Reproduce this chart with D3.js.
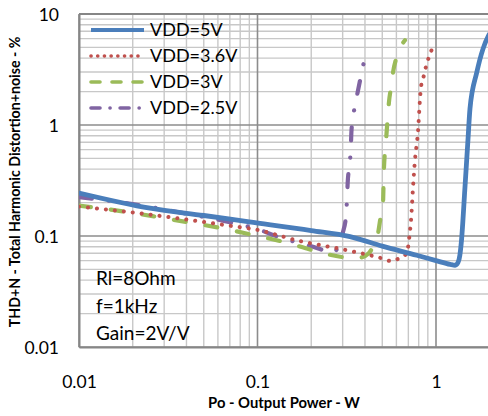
<!DOCTYPE html>
<html>
<head>
<meta charset="utf-8">
<script src="https://cdn.jsdelivr.net/npm/d3@7"></script>
<style>
  html, body { margin: 0; padding: 0; background: #fff; }
  svg { display: block; }
  text { font-family: Lato, "Open Sans", sans-serif; fill: #000; }
</style>
</head>
<body>
<script>
// ---- data ----
const seriesNames = ["VDD=5V", "VDD=3.6V", "VDD=3V", "VDD=2.5V"];

const p5V   = [0.01, 0.025, 0.05, 0.09, 0.2, 0.33, 0.5, 0.78, 1.0, 1.2, 1.28, 1.33, 1.36, 1.39, 1.45, 1.51, 1.55, 1.69, 1.83, 1.96, 2.05];
const thd5V = [0.244, 0.178, 0.153, 0.134, 0.112, 0.0986, 0.081, 0.067, 0.060, 0.0555, 0.0545, 0.058, 0.067, 0.092, 0.26, 0.73, 1.4, 2.95, 4.8, 6.3, 7.0];

const p36V   = [0.01, 0.0234, 0.042, 0.08, 0.093, 0.173, 0.31, 0.496, 0.558, 0.623, 0.686, 0.709, 0.727, 0.742, 0.763, 0.782, 0.792, 0.798, 0.809, 0.824, 0.846, 0.872, 0.899, 0.938, 0.982];
const thd36V = [0.184, 0.158, 0.139, 0.120, 0.116, 0.090, 0.075, 0.063, 0.0596, 0.063, 0.0698, 0.0986, 0.15, 0.26, 0.49, 0.70, 0.85, 1.03, 1.5, 2.2, 2.6, 3.2, 3.8, 4.6, 5.5];

const p3V   = [0.01, 0.0188, 0.0277, 0.0429, 0.0657, 0.0944, 0.146, 0.2, 0.33, 0.375, 0.42, 0.444, 0.47, 0.49, 0.505, 0.51, 0.525, 0.535, 0.545, 0.56, 0.575, 0.605, 0.67];
const thd3V = [0.188, 0.164, 0.148, 0.131, 0.116, 0.102, 0.087, 0.075, 0.064, 0.064, 0.070, 0.080, 0.099, 0.15, 0.20, 0.37, 0.73, 1.1, 1.6, 2.2, 3.0, 4.2, 5.8];

const p25V   = [0.01, 0.020, 0.0383, 0.073, 0.099, 0.136, 0.189, 0.23, 0.254, 0.283, 0.30, 0.313, 0.317, 0.32, 0.327, 0.333, 0.336, 0.345, 0.36, 0.375, 0.40];
const thd25V = [0.224, 0.194, 0.161, 0.131, 0.116, 0.096, 0.083, 0.075, 0.070, 0.078, 0.106, 0.15, 0.21, 0.30, 0.43, 0.60, 0.88, 1.25, 1.8, 2.5, 4.1];

const xTickValues = [0.01, 0.1, 1];
const xTickLabels = ["0.01", "0.1", "1"];
const yTickValues = [0.01, 0.1, 1, 10];
const yTickLabels = ["0.01", "0.1", "1", "10"];

const annotations = ["Rl=8Ohm", "f=1kHz", "Gain=2V/V"];
const xTitle = "Po - Output Power - W";
const yTitle = "THD+N - Total Harmonic Distortion+noise - %";

// ---- layout ----
const W = 488, H = 416;
const mLeft = 79, mTop = 14, mBottom = 347;
const decade = 178.5;
const x = d3.scaleLog().domain([0.01, 2]).range([mLeft, mLeft + decade * Math.log10(200)]);
const y = d3.scaleLog().domain([0.01, 10]).range([mBottom, mTop]);
const mRight = x.range()[1];

const svg = d3.select("body").append("svg").attr("width", W).attr("height", H);

const defs = svg.append("defs");
defs.append("clipPath").attr("id", "plotclip").append("rect")
  .attr("x", mLeft).attr("y", mTop).attr("width", mRight - mLeft).attr("height", mBottom - mTop);

// ---- grid ----
const grid = svg.append("g");
const minorX = [], majorX = [];
for (let e = -2; e <= 0; e++) {
  for (let m = 1; m <= 9; m++) {
    const v = m * Math.pow(10, e);
    if (v > 2.0001) continue;
    (m === 1 ? majorX : minorX).push(v);
  }
}
const minorY = [], majorY = [];
for (let e = -2; e <= 1; e++) {
  for (let m = 1; m <= 9; m++) {
    const v = m * Math.pow(10, e);
    if (v > 10.0001) continue;
    (m === 1 ? majorY : minorY).push(v);
  }
}
grid.selectAll(".mx").data(minorX).enter().append("line")
  .attr("x1", d => x(d)).attr("x2", d => x(d)).attr("y1", mTop).attr("y2", mBottom)
  .attr("stroke", "#c8c8c8").attr("stroke-width", 1.4);
grid.selectAll(".my").data(minorY).enter().append("line")
  .attr("x1", mLeft).attr("x2", mRight).attr("y1", d => y(d)).attr("y2", d => y(d))
  .attr("stroke", "#c8c8c8").attr("stroke-width", 1.4);
grid.selectAll(".Mx").data(majorX).enter().append("line")
  .attr("x1", d => x(d)).attr("x2", d => x(d)).attr("y1", mTop).attr("y2", mBottom)
  .attr("stroke", "#8c8c8c").attr("stroke-width", 1.6);
grid.selectAll(".My").data(majorY).enter().append("line")
  .attr("x1", mLeft).attr("x2", mRight).attr("y1", d => y(d)).attr("y2", d => y(d))
  .attr("stroke", "#8c8c8c").attr("stroke-width", 1.6);

// ---- axes (labels via d3 axes) ----
const xAxis = d3.axisBottom(x).tickValues(xTickValues)
  .tickFormat((d, i) => xTickLabels[i]).tickSize(0).tickPadding(0);
const gx = svg.append("g").attr("transform", `translate(0,${mBottom})`).call(xAxis);
gx.select(".domain").attr("stroke", "#868686").attr("stroke-width", 2);
gx.selectAll("text").attr("y", 41).attr("dy", 0)
  .style("font-size", "17.5px").style("font-family", "Lato, 'Open Sans', sans-serif").attr("fill", "#000");

const yAxis = d3.axisLeft(y).tickValues(yTickValues)
  .tickFormat((d, i) => yTickLabels[i]).tickSize(0).tickPadding(0);
const gy = svg.append("g").attr("transform", `translate(${mLeft},0)`).call(yAxis);
gy.select(".domain").attr("stroke", "#868686").attr("stroke-width", 2);
gy.selectAll("text").attr("x", -20).attr("dy", "0.36em")
  .style("font-size", "17.5px").style("font-family", "Lato, 'Open Sans', sans-serif").attr("fill", "#000");

// top border
svg.append("line").attr("x1", mLeft).attr("x2", mRight).attr("y1", mTop).attr("y2", mTop)
  .attr("stroke", "#868686").attr("stroke-width", 2);

// ---- series ----
const series = [
  { name: seriesNames[0], p: p5V,  t: thd5V,  color: "#4a7ebb", width: 4.8, dash: null, legDash: null },
  { name: seriesNames[1], p: p36V, t: thd36V, color: "#c0504d", width: 4,   dash: "0.1,8.9", legDash: "0.1,6.6" },
  { name: seriesNames[2], p: p3V,  t: thd3V,  color: "#9bbb59", width: 4.2, dash: "12,20", legDash: "9,12" },
  { name: seriesNames[3], p: p25V, t: thd25V, color: "#8064a2", width: 4.2, dash: "13,17,0.1,17", legDash: "9,10,0.1,10" }
];

const line = d3.line().x(d => x(d[0])).y(d => y(d[1])).curve(d3.curveMonotoneX);
const plot = svg.append("g").attr("clip-path", "url(#plotclip)");
series.slice().reverse().forEach(s => {
  plot.append("path")
    .datum(s.p.map((v, i) => [v, s.t[i]]))
    .attr("d", line)
    .attr("fill", "none")
    .attr("stroke", s.color)
    .attr("stroke-width", s.width)
    .attr("stroke-linecap", "round")
    .attr("stroke-linejoin", "round")
    .attr("stroke-dasharray", s.dash);
});

// ---- legend ----
const leg = svg.append("g");
series.forEach((s, i) => {
  const cy = 30 + i * 26;
  leg.append("line").attr("x1", 91).attr("x2", 144).attr("y1", cy).attr("y2", cy)
    .attr("stroke", s.color).attr("stroke-width", s.dash ? 3.6 : 4)
    .attr("stroke-linecap", s.dash ? "round" : "butt")
    .attr("stroke-dasharray", s.legDash);
  leg.append("text").attr("x", 150).attr("y", cy).attr("dy", "0.36em")
    .style("font-size", "18px").text(s.name);
});

// ---- annotations ----
annotations.forEach((t, i) => {
  svg.append("text").attr("x", 96).attr("y", 285 + i * 27.5)
    .style("font-size", "19px").text(t);
});

// ---- titles ----
svg.append("text").attr("x", 284).attr("y", 408).attr("text-anchor", "middle")
  .style("font-size", "14.8px").style("font-weight", "bold").text(xTitle);
svg.append("text").attr("transform", "translate(20,182) rotate(-90)").attr("text-anchor", "middle")
  .style("font-size", "14.2px").style("font-weight", "bold").text(yTitle);
</script>
</body>
</html>
